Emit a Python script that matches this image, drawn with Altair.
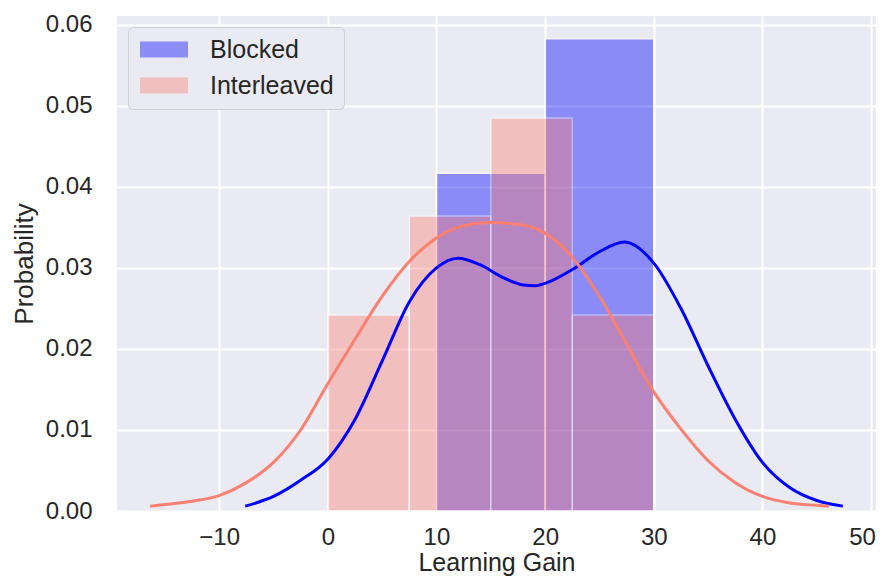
import altair as alt
import pandas as pd

groups = ["Blocked", "Interleaved"]
colors = ["#0000FF", "#FA8072"]

# Histogram bins (density)
blocked_edges = [10, 20, 30]
blocked_density = [0.0417, 0.0583]
inter_edges = [0, 7.5, 15, 22.5, 30]
inter_density = [0.0242, 0.0364, 0.0485, 0.0242]

# KDE curves
blocked_kde_x = [-7.6, -5, -2.5, 0, 2.5, 5, 7.5, 10, 12, 14, 16, 18, 19, 20,
                 22.5, 25, 27.3, 30, 32.5, 35, 37.5, 40, 42.5, 45, 47.4]
blocked_kde_y = [0.0006, 0.0018, 0.0038, 0.0064, 0.0113, 0.0185, 0.0258, 0.0300,
                 0.0312, 0.0304, 0.0289, 0.0279, 0.0278, 0.0281, 0.0298, 0.0320,
                 0.0332, 0.0306, 0.0250, 0.0179, 0.0113, 0.0060, 0.0029, 0.0013,
                 0.0006]
inter_kde_x = [-16.35, -15, -12.5, -10, -7.5, -5, -2.5, 0, 2.5, 5, 7.5, 10, 12.5,
               15, 17.5, 20, 22.5, 25, 27.5, 30, 32.5, 35, 37.5, 40, 42.5, 45, 46.1]
inter_kde_y = [0.0006, 0.0008, 0.0012, 0.0019, 0.0035, 0.0060, 0.0100, 0.0157,
               0.0212, 0.0265, 0.0308, 0.0337, 0.0352, 0.0356, 0.0354, 0.0343,
               0.0313, 0.0265, 0.0206, 0.0147, 0.0101, 0.0062, 0.0035, 0.0018,
               0.0010, 0.0007, 0.0006]

x_ticks = [-10, 0, 10, 20, 30, 40, 50]
y_ticks = [0.0, 0.01, 0.02, 0.03, 0.04, 0.05, 0.06]


def bars(edges, dens, name):
    return pd.DataFrame({
        "group": [name] * len(dens),
        "x0": edges[:-1],
        "x1": edges[1:],
        "density": dens,
    })


def kde(xs, ys, name):
    return pd.DataFrame({"group": [name] * len(xs), "x": xs, "y": ys})


FONT = "Liberation Sans"
TXT = "#262626"

xscale = alt.Scale(domain=[-19.4, 50.45], nice=False, zero=False)
yscale = alt.Scale(domain=[0, 0.0611], nice=False, zero=False)
cscale = alt.Scale(domain=groups, range=colors)

xaxis = alt.Axis(values=x_ticks, title="Learning Gain", labelPadding=14,
                 labelOffset={"condition": {"test": "datum.value === 50", "value": -9},
                              "value": 0},
                 titleFontSize=25, titleY=59, titleBaseline="alphabetic")
yaxis = alt.Axis(values=y_ticks, format=".2f", title="Probability", labelPadding=25,
                 titleX=-85, titleY=247.5, titleAngle=270, titleAlign="center",
                 titleBaseline="alphabetic")

legend = alt.Legend(
    title=None, orient="top-left", offset=11, padding=10,
    fillColor="#EAEAF2", strokeColor="#CFCFD6", cornerRadius=5,
    symbolType="M-1.3125,-1H4.6875V1H-1.3125Z", symbolSize=256, symbolOpacity=0.4,
    symbolStrokeWidth=0, labelFontSize=25, labelFont=FONT, labelColor=TXT,
    labelOffset=47, rowPadding=10, labelLimit=0,
)


def bar_layer(df):
    return alt.Chart(df).mark_rect(opacity=0.4, stroke="white", strokeWidth=1.5).encode(
        x=alt.X("x0:Q", scale=xscale, axis=xaxis),
        x2="x1:Q",
        y=alt.Y("density:Q", scale=yscale, axis=yaxis),
        color=alt.Color("group:N", scale=cscale, legend=legend),
    )


def line_layer(df):
    return alt.Chart(df).mark_line(strokeWidth=3, interpolate="monotone").encode(
        x=alt.X("x:Q", scale=xscale, axis=xaxis),
        y=alt.Y("y:Q", scale=yscale, axis=yaxis),
        stroke=alt.Stroke("group:N", scale=cscale, legend=None),
        order="x:Q",
    )


chart = alt.layer(
    bar_layer(bars(blocked_edges, blocked_density, "Blocked")),
    bar_layer(bars(inter_edges, inter_density, "Interleaved")),
    line_layer(kde(blocked_kde_x, blocked_kde_y, "Blocked")),
    line_layer(kde(inter_kde_x, inter_kde_y, "Interleaved")),
).properties(
    width=759, height=495,
    autosize=alt.AutoSizeParams(type="none"),
    padding={"left": 109, "top": 8, "right": 0, "bottom": 65},
    background="white",
).configure_view(
    fill="#EAEAF2", strokeWidth=0
).configure_axis(
    grid=True, gridColor="white", gridWidth=2, domain=False, ticks=False,
    labelFont=FONT, labelFontSize=24, labelColor=TXT,
    titleFont=FONT, titleFontSize=26, titleFontWeight="normal", titleColor=TXT,
)

chart.save("out.html", embed_options={"renderer": "svg", "actions": False})
